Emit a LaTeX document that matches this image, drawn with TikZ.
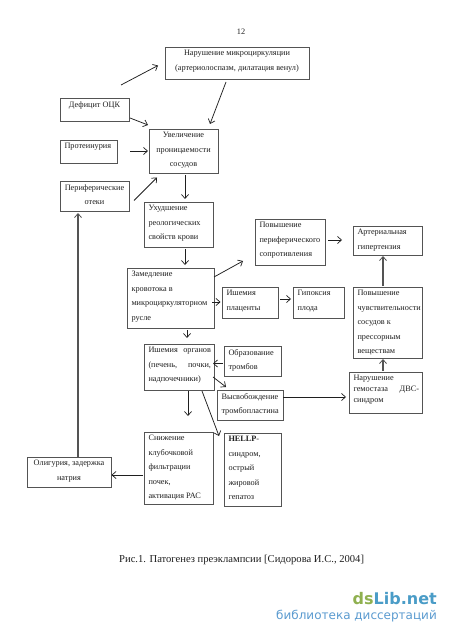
\documentclass[tikz,border=0pt]{standalone}
\usepackage{fontspec}
\setmainfont{Liberation Serif}
\newfontfamily\wmfont{DejaVu Sans}
\usetikzlibrary{arrows.meta,calc}
\definecolor{inkc}{gray}{0.12}
\definecolor{edgec}{gray}{0.33}
\definecolor{wmgreen}{HTML}{8FB04F}
\definecolor{wmblue}{HTML}{4A9CC7}
\definecolor{wmlight}{HTML}{5B9BD0}
\newlength{\boxw}\newlength{\boxh}
\newcommand{\bx}[7][l]{% align, name, x1,y1,x2,y2, text
  \pgfmathsetlength{\boxw}{#5-#3}\pgfmathsetlength{\boxh}{#6-#4}%
  \node[boxn,minimum width=\boxw,minimum height=\boxh,anchor=north west] (#2) at (#3,#4)
  {\parbox[c][\boxh][t]{\boxw}{\let\\\par\setlength{\baselineskip}{14.5pt}\setlength{\parskip}{0pt}\setlength{\parfillskip}{0pt}\setlength{\leftskip}{4.5pt}\setlength{\rightskip}{3pt plus 1fil}\csname bx#1\endcsname\vspace*{3.4pt}#7\par}};}
\newcommand{\bxl}{}
\newcommand{\bxc}{\setlength{\leftskip}{0pt plus 1fil}\setlength{\rightskip}{0pt plus 1fil}}
% connector from node to node: offsets are measured from each node's top left corner
\newcommand{\lnk}[7][arr]{\draw[#1] ($(#2.north west)+(#3,#4)$) -- ($(#5.north west)+(#6,#7)$);}
\tikzset{x=1pt,y=-1pt,
  boxn/.style={draw=edgec,line width=0.8pt,fill=white,inner sep=0pt,outer sep=0pt,font=\fontsize{8.25}{14.5}\selectfont,text=inkc},
  arr/.style={draw=inkc,line width=0.75pt,-{Straight Barb[length=4pt,width=7pt,line width=0.7pt]}},
  thickarr/.style={draw=edgec,line width=1.1pt,-{Straight Barb[length=4pt,width=7pt,line width=0.8pt]}},
  plain/.style={text=inkc,inner sep=0pt}}
\begin{document}
\begin{tikzpicture}
\useasboundingbox[fill=white] (0,0) rectangle (450,636);
\node[plain,font=\fontsize{8.3}{10}\selectfont] (page) at (241,31.5) {12};
\bx[c]{a}{165}{47}{309}{79}{Нарушение микроциркуляции\\(артериолоспазм, дилатация венул)}
\bx[c]{b}{60}{98}{129}{121}{Дефицит ОЦК}
\bx{c}{60}{140}{117}{163}{Протеинурия}
\bx[c]{d}{60}{181}{129}{211}{Периферические\\отеки}
\bx[c]{e}{149}{129}{218}{173}{Увеличение\\проницаемости\\сосудов}
\bx{f}{144}{202}{213}{247}{Ухудшение\\реологических\\свойств крови}
\bx{g}{127}{268}{214}{328}{Замедление\\кровотока в\\микроциркуляторном\\русле}
\bx{h}{255}{219}{325}{265}{Повышение\\периферического\\сопротивления}
\bx{i}{353}{226}{422}{255}{Артериальная\\гипертензия}
\bx{j}{222}{287}{278}{318}{Ишемия\\плаценты}
\bx{k}{293}{287}{344}{318}{Гипоксия\\плода}
\bx{l}{353}{287}{422}{358}{Повышение\\чувствительности\\сосудов к\\прессорным\\веществам}
\bx{m}{349}{372}{422}{413}{\setlength{\baselineskip}{11pt}Нарушение\\гемостаза\hfill ДВС-\\синдром}
\bx{n}{224}{346}{281}{376}{Образование\\тромбов}
\bx{o}{217}{390}{283}{420}{Высвобождение\\тромбопластина}
\bx{p}{144}{344}{214}{390}{Ишемия\hfill органов\\(печень,\hfill почки,\\надпочечники)}
\bx{q}{144}{432}{213}{504}{Снижение\\клубочковой\\фильтрации\\почек,\\активация РАС}
\bx{r}{224}{433}{281}{506}{\textbf{HELLP}-\\синдром,\\острый\\жировой\\гепатоз}
\bx[c]{s}{27}{457}{111}{487}{Олигурия, задержка\\натрия}
\coordinate (free) at (121,85);
\draw[arr] (free) -- ($(a.north west)+(-7,18.5)$);
\lnk{a}{61}{35}{e}{61}{-5}
\lnk{b}{70}{20}{e}{-1}{-4}
\lnk{c}{70}{11}{e}{-1}{22}
\lnk{d}{74}{19.5}{e}{8}{48.5}
\lnk{e}{36}{46.5}{f}{41}{-3}
\lnk{f}{41}{47}{g}{58}{-3}
\lnk{g}{87}{9}{h}{-12}{42}
\lnk{h}{73}{21}{i}{-11}{14}
\lnk[thickarr]{l}{30}{-1}{i}{30}{30}
\lnk{j}{58}{12}{k}{-2}{12}
\lnk{g}{85}{34}{j}{-1.5}{15}
\lnk{g}{60}{62}{p}{43}{-6}
\lnk{n}{-1}{17.5}{p}{69}{19.5}
\lnk{p}{69}{33}{o}{9}{-3}
\lnk{p}{44}{47}{q}{44}{-16}
\lnk{p}{58}{47}{r}{-5}{3}
\lnk{o}{66}{7}{m}{-3}{25}
\lnk[thickarr]{m}{34}{-1}{l}{30}{72}
\lnk{q}{-1}{43}{s}{84.5}{18}
\lnk[thickarr]{s}{51}{-0.5}{d}{18}{32}
\node[plain,font=\fontsize{10.6}{12}\selectfont,anchor=west] (cap) at (119,560) {Рис.1. Патогенез преэклампсии [Сидорова И.С., 2004]};
\node[inner sep=0pt,anchor=east,font=\wmfont\bfseries\fontsize{16}{18}\selectfont] (wm) at (437,598.5) {\textcolor{wmgreen}{ds}\textcolor{wmblue}{Lib.net}};
\node[inner sep=0pt,anchor=east,text=wmlight,font=\wmfont\fontsize{12}{14}\selectfont] (wm2) at (437,616) {библиотека диссертаций};
\end{tikzpicture}
\end{document}
